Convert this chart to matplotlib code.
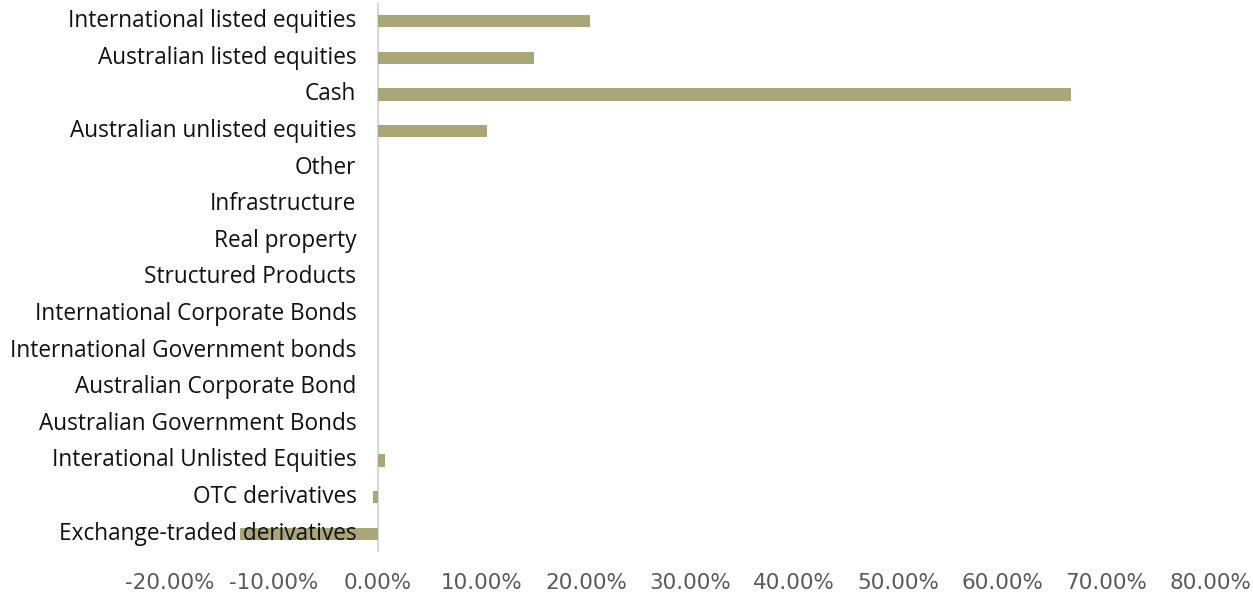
import matplotlib
matplotlib.use("Agg")
import matplotlib.pyplot as plt
from matplotlib.ticker import FuncFormatter

categories = [
    "International listed equities",
    "Australian listed equities",
    "Cash",
    "Australian unlisted equities",
    "Other",
    "Infrastructure",
    "Real property",
    "Structured Products",
    "International Corporate Bonds",
    "International Government bonds",
    "Australian Corporate Bond",
    "Australian Government Bonds",
    "Interational Unlisted Equities",
    "OTC derivatives",
    "Exchange-traded derivatives",
]
values = [20.4, 15.0, 66.6, 10.5, 0.0, 0.0, 0.0, 0.0, 0.0, 0.0, 0.0, 0.0, 0.7, -0.45, -13.3]
xticks = [-20, -10, 0, 10, 20, 30, 40, 50, 60, 70, 80]

plt.rcParams['font.family'] = ['Open Sans', 'DejaVu Sans']

fig = plt.figure(figsize=(12.53, 5.97), dpi=100)
ax = fig.add_axes([170/1253, 1-552/597, (1210-170)/1253, (552-3)/597])

n = len(categories)
ypos = list(range(n))
ax.barh(ypos, values, height=0.33, color="#a9a67a", zorder=2)
ax.set_ylim(n - 0.5, -0.5)
ax.set_xlim(-20, 80)
ax.set_xticks(xticks)
ax.xaxis.set_major_formatter(FuncFormatter(lambda v, p: f"{v:.2f}%"))
ax.tick_params(axis='x', length=0, pad=15, labelsize=15.5, labelcolor="#595959")
for t in ax.get_xticklabels():
    t.set_family(['DejaVu Sans'])
ax.set_yticks([])
for s in ax.spines.values():
    s.set_visible(False)
ax.axvline(0, color="#d9d9d9", lw=1.5, zorder=1)

for y, lab in zip(ypos, categories):
    ax.annotate(lab, xy=(0, y), xytext=(-15.5, 0), textcoords="offset points",
                ha="right", va="center", fontsize=16.3, color="#111111",
                zorder=5, annotation_clip=False)

fig.savefig("out.png", dpi=100)
